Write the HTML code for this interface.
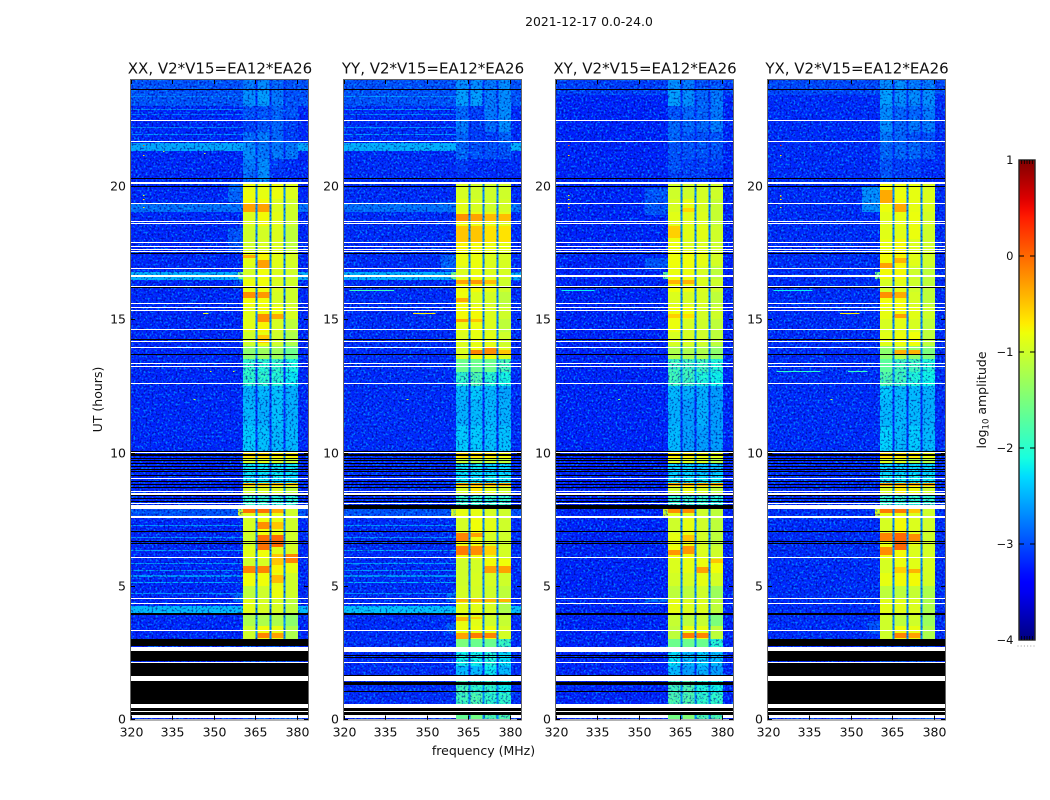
<!DOCTYPE html>
<html lang="en">
<head>
<meta charset="utf-8">
<title>2021-12-17 amplitude waterfall</title>
<style>
html,body{margin:0;padding:0;background:#fff;}
svg{display:block;font-family:"DejaVu Sans","Liberation Sans",sans-serif;fill:#111;}
</style>
</head>
<body>
<svg id="figure" xmlns="http://www.w3.org/2000/svg" width="1050" height="800" viewBox="0 0 1050 800">
  <defs>
    <filter id="speckle" x="0" y="0" width="100%" height="100%" color-interpolation-filters="sRGB">
      <feTurbulence type="fractalNoise" baseFrequency="0.5" numOctaves="1" seed="7" result="n"/>
      <feColorMatrix in="n" type="matrix" values="0 0 0 0 0  0 0 0 0 0.72  0 0 0 0 1  4.5 0 0 0 -2.2" result="hi"/>
      <feColorMatrix in="n" type="matrix" values="0 0 0 0 0  0 0 0 0 0  0 0 0 0 0.55  0 4.5 0 0 -2.25" result="lo"/>
      <feMerge><feMergeNode in="hi"/><feMergeNode in="lo"/></feMerge>
    </filter>
    <linearGradient id="jet-ramp" x1="0" y1="1" x2="0" y2="0"></linearGradient>
  </defs>
  <text x="589" y="26" text-anchor="middle" font-size="12.4">2021-12-17 0.0-24.0</text>
  <text transform="translate(102,399.5) rotate(-90)" text-anchor="middle" font-size="12.5">UT (hours)</text>
  <text x="483.5" y="755" text-anchor="middle" font-size="12.5">frequency (MHz)</text>
  <text transform="translate(986,400) rotate(-90)" text-anchor="middle" font-size="12.5">log<tspan font-size="8.5" dy="2.5">10</tspan><tspan dy="-2.5"> amplitude</tspan></text>
  <g id="panels"></g>
  <g id="colorbar"></g>
</svg>
<script>
/* ---------- axis labels ---------- */
const panelTitles = ["XX, V2*V15=EA12*EA26", "YY, V2*V15=EA12*EA26", "XY, V2*V15=EA12*EA26", "YX, V2*V15=EA12*EA26"];
const freqTicks = [320, 335, 350, 365, 380];
const utTicks = [0, 5, 10, 15, 20];
const colorbarTicks = [-4, -3, -2, -1, 0, 1];

/* ---------- heatmap grid: UT rows (top to bottom), frequency columns ---------- */
const utEdges = [24,23.6,23,22.5,22,21.6,21,20.5,20.08,19.5,19,18.5,18,17.5,17,16.5,16,15.5,15,14.5,14,13.5,13,12.5,12,11,10,9.8,9.6,9.2,9,8.85,8.75,8.5,7.9,7.6,7,6.5,6,5.5,5,4.5,4,3.5,3,2.7,2,1.5,1,0.5,0];
const freqEdges = [320,360.5,364.95,365.7,370.05,370.8,375.15,375.9,380.3,384];

/* log10 amplitude in the four spectral windows, one row per UT interval */
const xxWindows = [
[-2.8,-2.7,-2.9,-3],[-2.7,-2.6,-2.8,-3],[-3,-3,-2.9,-3],[-3.1,-3,-2.9,-3.1],[-2.9,-2.8,-2.9,-3.1],[-2.7,-2.8,-2.8,-2.8],[-2.8,-2.7,-3.1,-3.2],[-2.9,-2.7,-3.2,-3.2],
[-.82,-.85,-.82,-.92],[-.78,-.78,-.92,-1],[-.92,-.78,-.88,-1],[-1,-.97,-.92,-1.1],[-1,-.95,-.92,-1.1],[-.88,-.75,-.88,-.97],[-.97,-.8,-.92,-1],[-.82,-.8,-.92,-1],[-.8,-.8,-.95,-1],[-.88,-.78,-.8,-.95],[-.88,-.75,-.95,-1.1],[-1,-.85,-1,-1.2],[-1.4,-1.3,-1.3,-1.6],
[-1.95,-2,-1.95,-2.1],[-1.95,-1.95,-2,-2.2],[-2.5,-2.45,-2.4,-2.5],[-2.45,-2.5,-2.4,-2.5],[-2.35,-2.4,-2.45,-2.45],
[-.65,-.65,-.75,-.75],[-1,-.9,-1,-1.1],[-2.2,-2.2,-2.2,-2.2],[-2.3,-2.35,-2.2,-2.3],[-2.2,-2.2,-2.3,-2.3],[-.4,-.4,-.4,-.5],[-1,-.95,-.95,-1.1],[-1.95,-1.95,-2,-2],
[-.9,-.9,-.85,-1],[-.95,-.8,-.85,-1],[-1,-.8,-.8,-1],[-.88,-.8,-.88,-.95],[-1,-.95,-.75,-.85],[-.8,-.8,-.85,-1],[-1.1,-1,-.82,-1],[-.88,-.95,-.95,-1.1],[-1.2,-1.2,-1.2,-1.4],[-1,-.8,-.85,-1.2],
[-3,-3,-3,-3],[-3,-3,-3,-3],[-3,-3,-3,-3],[-3,-3,-3,-3],[-3,-3,-3,-3],[-3,-3,-3,-3]];
const yyWindows = [
[-2.7,-2.7,-2.8,-2.7],[-2.6,-2.6,-2.8,-2.7],[-2.9,-3.1,-2.8,-2.7],[-2.8,-3.1,-2.9,-2.7],[-2.9,-3.1,-3.1,-2.9],[-2.9,-3,-3,-3],[-3.1,-3.2,-3.2,-3.2],[-3.2,-3.2,-3.2,-3.2],
[-.95,-1,-1,-1],[-.88,-.95,-1,-.97],[-.8,-.82,-.85,-.88],[-.75,-.78,-.82,-.85],[-.75,-.78,-.82,-.85],[-.82,-.82,-.92,-.95],[-.92,-.82,-.92,-.95],[-.78,-.78,-.85,-1],[-.8,-.92,-.97,-1.1],[-.78,-.78,-.92,-1],[-.85,-.82,-.92,-1.1],[-.92,-.85,-.88,-1],[-.92,-.8,-.8,-.92],
[-1.6,-1.6,-1.6,-1.8],[-1.95,-1.75,-2,-2.1],[-2.45,-2.35,-2.45,-2.55],[-2.5,-2.45,-2.45,-2.5],[-2.35,-2.35,-2.4,-2.4],
[-.65,-.65,-.72,-.8],[-1.1,-1.2,-1.1,-1.1],[-2.2,-2.2,-2.3,-2.3],[-2.3,-2.3,-2.2,-2.2],[-2.2,-2.2,-2.2,-2.2],[-.3,-.3,-.3,-.3],[-.95,-.7,-.88,-1],[-1.95,-1.95,-1.95,-1.95],
[-.85,-.85,-.95,-1],[-.97,-.8,-.88,-1],[-.8,-.8,-.95,-1],[-.78,-.8,-.85,-.97],[-1,-.97,-.78,-.8],[-1,-.95,-.95,-1],[-.97,-.97,-1,-1.1],[-.88,-.88,-.95,-1.2],[-.85,-.88,-1,-1.05],[-.82,-.82,-.82,-.97],
[-1.5,-1.6,-1.6,-1.9],[-2.15,-2.15,-2.05,-2.25],[-2.45,-2.45,-2.2,-2.45],[-1.85,-1.95,-1.95,-2.15],[-1.85,-1.75,-1.95,-1.95],[-1.65,-1.55,-1.75,-1.75]];
const xyWindows = [
[-2.7,-2.8,-3,-3],[-2.6,-2.7,-2.9,-2.8],[-3,-2.9,-2.9,-2.8],[-2.9,-2.9,-2.9,-2.8],[-2.9,-3,-3,-3],[-3,-3,-3,-3],[-3,-3.1,-3.1,-3.1],[-3.1,-3.1,-3.1,-3.2],
[-1,-1,-.97,-1],[-.95,-.85,-.95,-1.05],[-.88,-.88,-.92,-1.05],[-.82,-.88,-.88,-1],[-.82,-.92,-.92,-1],[-.8,-.8,-.85,-.97],[-.82,-.82,-.95,-1.1],[-.8,-.82,-.92,-1],[-.92,-.95,-.95,-1.1],[-.8,-.8,-.97,-1],[-.82,-.95,-1,-1.1],[-.95,-.95,-1,-1.1],[-1.2,-1.2,-1.2,-1.4],
[-1.85,-1.85,-1.85,-2.05],[-1.85,-1.85,-2.05,-2.15],[-2.45,-2.5,-2.5,-2.6],[-2.5,-2.6,-2.5,-2.6],[-2.45,-2.6,-2.6,-2.6],
[-.72,-.72,-.82,-.88],[-.95,-.95,-.97,-1.2],[-2.3,-2.3,-2.4,-2.4],[-2.3,-2.3,-2.3,-2.3],[-2.2,-2.2,-2.2,-2.2],[-.3,-.3,-.3,-.3],[-1,-.82,-.95,-1.1],[-1.95,-1.95,-1.95,-2.05],
[-.9,-.9,-1,-1.1],[-1,-.85,-1,-1.1],[-.85,-.82,-.97,-1.1],[-.8,-.8,-.92,-1],[-.92,-.85,-.82,-.8],[-.97,-.95,-.85,-.97],[-1.1,-1.1,-1,-1.3],[-.85,-.92,-.92,-1.1],[-1.05,-1.1,-1.05,-1.5],[-1.1,-.85,-.85,-1.1],
[-1.6,-1.6,-1.6,-2],[-2.25,-2.45,-2.35,-2.45],[-2.45,-2.6,-2.5,-2.6],[-1.85,-1.75,-2.05,-2.15],[-1.75,-1.75,-1.95,-1.95],[-1.55,-1.45,-1.75,-1.75]];
const yxWindows = [
[-2.7,-2.7,-2.8,-2.8],[-2.6,-2.7,-2.7,-2.7],[-2.7,-2.9,-2.9,-2.8],[-2.7,-2.9,-2.8,-2.8],[-2.8,-2.9,-3,-3],[-2.9,-2.9,-2.9,-3],[-3,-3.1,-3.1,-3.2],[-3,-3.1,-3.1,-3.2],
[-.8,-.82,-.85,-.92],[-.82,-.78,-.85,-.92],[-.88,-.85,-.82,-.97],[-.88,-.88,-.82,-1],[-.85,-.78,-.92,-1],[-.78,-.75,-.88,-1],[-.78,-.78,-1,-1.1],[-.95,-.88,-1,-1.1],[-.8,-.8,-.95,-1.1],[-.85,-.78,-.88,-1],[-.95,-.88,-.95,-1.1],[-.88,-.82,-.8,-1.1],[-1.4,-1.2,-1.4,-1.5],
[-1.7,-1.85,-1.85,-2.05],[-1.75,-1.85,-2.05,-2.15],[-2.35,-2.45,-2.45,-2.5],[-2.45,-2.45,-2.45,-2.5],[-2.3,-2.45,-2.35,-2.45],
[-.65,-.72,-.72,-.82],[-.95,-.95,-1.2,-1.2],[-2.3,-2.3,-2.3,-2.3],[-2.2,-2.2,-2.2,-2.2],[-2.2,-2.2,-2.2,-2.2],[-.25,-.25,-.3,-.3],[-.95,-.72,-.82,-1],[-1.95,-1.95,-1.95,-1.95],
[-.85,-.85,-.92,-1],[-.95,-.78,-.92,-1],[-.82,-.8,-.85,-1],[-.8,-.78,-.92,-.97],[-.95,-.82,-.88,-.95],[-.85,-.78,-.78,-.97],[-1.1,-1.1,-1.05,-1.2],[-.88,-.88,-.92,-1.2],[-1,-1.1,-1,-1.3],[-1,-.82,-.85,-1.2],
[-3,-3,-3,-3],[-3,-3,-3,-3],[-3,-3,-3,-3],[-3,-3,-3,-3],[-3,-3,-3,-3],[-3,-3,-3,-3]];

/* bright patches inside a window: [windowIndex, utTop, utBottom, level] */
const xxHot = [[0,19.3,19,-.3],[1,19.3,19,-.3],[0,17.4,17.3,-.35],[1,17.2,16.9,-.3],[0,16,15.8,-.2],[1,16,15.8,-.25],[1,15.2,14.9,-.2],[2,15.2,15,-.35],[1,14.4,14.1,-.5],[0,7.9,7.72,-.05],[1,7.9,7.72,-.05],[2,7.9,7.75,-.35],[1,7.4,7.15,-.2],[2,7.4,7.15,-.5],[1,6.9,6.35,-.05],[2,6.9,6.45,0],[3,6.2,5.85,-.15],[2,6.2,5.8,-.5],[0,5.75,5.5,-.15],[1,5.75,5.5,-.15],[2,5.4,5.1,-.45],[1,3.25,3.05,-.15],[2,3.25,3.05,-.3]];
const yyHot = [[0,18.95,18.65,-.2],[1,18.95,18.65,-.3],[2,18.95,18.65,-.45],[3,18.95,18.65,-.45],[0,18.5,17.9,-.5],[1,18.5,17.9,-.5],[2,18.5,17.9,-.65],[3,18.5,17.9,-.65],[0,16.45,16.3,-.3],[1,16.45,16.3,-.25],[2,16.45,16.3,-.45],[0,15.8,15.65,-.35],[0,15,14.9,-.3],[1,15,14.9,-.5],[1,13.85,13.7,-.15],[2,13.95,13.7,-.2],[3,13.85,13.7,-.5],[0,7,6.7,-.15],[1,7,6.85,-.3],[0,6.5,6.15,-.1],[1,6.5,6.15,-.2],[2,6.5,6.15,-.55],[2,5.75,5.5,-.3],[3,5.75,5.5,-.3],[0,4.5,4.4,-.4],[1,4.5,4.4,-.4],[2,4.5,4.4,-.4],[3,4.5,4.4,-.4],[0,3.85,3.7,-.4],[1,3.85,3.75,-.55],[0,3.25,3,-.3],[1,3.25,3.05,-.1],[2,3.25,3.05,-.15]];
const xyHot = [[0,18.5,18.05,-.55],[1,19.15,19,-.6],[0,16.45,16.3,-.4],[1,16.45,16.3,-.4],[0,15.2,15.05,-.55],[1,15.2,15.05,-.65],[0,7.9,7.75,-.2],[1,7.9,7.75,-.2],[1,6.9,6.7,-.5],[0,6.35,6.15,-.25],[1,6.5,6.2,-.25],[3,6,5.85,-.5],[2,5.7,5.5,-.3],[1,3.25,3.05,-.1],[2,3.25,3.05,-.15]];
const yxHot = [[0,19.85,19.3,-.35],[1,19.3,19,-.35],[1,17.3,17.1,-.4],[0,17.1,16.9,-.3],[0,16,15.8,-.2],[1,16,15.8,-.35],[1,15.2,15.05,-.3],[2,13.85,13.7,-.4],[1,13.85,13.7,-.4],[0,7.9,7.75,-.1],[1,7.9,7.75,-.1],[2,7.9,7.75,-.5],[0,7,6.7,-.15],[1,7,6.35,0],[2,6.95,6.7,-.2],[0,6.45,6.15,-.2],[2,5.65,5.5,-.4],[1,5.7,5.5,-.55],[1,3.25,3.05,-.15],[2,3.25,3.05,-.3]];

/* off-band background level and the channel-gap levels */
const backgroundLevels = [-3.22, -3.2, -3.24, -3.2];
const gapLevelBright = -2.7;
const gapLevelQuiet = -3.2;

/* broad raised bands: [utTop, utBottom, level] */
const xxRaised = [[24,23.0,-3.0],[21.62,21.3,-2.55],[19.35,19.0,-2.85],[16.75,16.45,-2.5],[7.9,7.58,-3.0],[4.24,3.98,-2.45]];
const yyRaised = [[24,23.0,-3.0],[21.62,21.3,-2.5],[19.35,19.0,-2.85],[16.75,16.45,-2.5],[7.9,7.58,-3.0],[4.24,3.98,-2.4]];
const xyRaised = [[24,23.4,-3.1]];
const yxRaised = [[24,23.4,-3.05]];

/* thin interference lines: [ut, level] */
const xxLines = [[23.35,-2.75],[22.85,-2.75],[22.66,-2.85],[22.17,-2.75],[21.92,-2.75],[7.28,-2.65],[6.8,-2.65],[6.34,-2.6],[5.85,-2.65],[5.59,-2.65],[5.37,-2.65],[5.11,-2.55],[4.73,-2.65]];
const yyLines = [[23.35,-2.65],[22.85,-2.65],[22.66,-2.75],[22.17,-2.65],[21.92,-2.65],[7.28,-2.65],[6.8,-2.65],[6.34,-2.5],[5.85,-2.6],[5.59,-2.65],[5.37,-2.65],[5.11,-2.5],[4.73,-2.65]];
const xyLines = [];
const yxLines = [];

/* shoulder next to the band: [utTop, utBottom, level, startMHz] */
const xxShoulder = [[20.05,19.4,-2.9,355],[18.4,17.5,-3.0,355],[16.45,16.3,-2.95,358],[16.75,16.5,-1.5,358.6],[7.9,7.62,-.9,358.6],[4.7,4.4,-2.9,357]];
const yyShoulder = [[19.4,19.0,-2.85,355],[17.4,16.8,-2.95,355],[16.75,16.5,-1.5,358.6],[7.9,7.62,-.9,358.6],[4.7,4.4,-2.9,357],[3.6,3.2,-2.95,357]];
const xyShoulder = [[19.9,18.9,-3.0,352],[17.3,16.9,-3.0,352],[16.75,16.5,-1.6,358.6],[7.9,7.62,-.9,358.6],[4.5,4.4,-2.85,352]];
const yxShoulder = [[19.95,19.0,-2.7,354],[16.75,16.5,-1.5,358.6],[7.9,7.62,-.9,358.6],[3.7,3.2,-3.0,356]];

/* isolated hot spots: [freqMHz, ut, level, widthMHz] */
const xxSpecks = [[324.4,21.5,.1,.5],[324.4,21.15,-.7,.5],[324.4,19.63,-.9,.5],[324.4,19.47,-.7,.5],[324.4,19.2,-.7,.5],[331.6,21.3,-1.2,.5],[346.4,21.2,-1.0,.5],[346,15.22,-.9,2],[342.6,12,-1.1,.8],[348.6,13.02,-.9,.5],[356.9,13.02,-.9,.5]];
const yySpecks = [[322,16.09,-1.9,16],[345,15.22,-.7,8],[342.6,12,-1.1,.8]];
const xySpecks = [[324.4,21.5,.1,.5],[324.4,21.15,-.7,.5],[324.4,19.63,-.8,.5],[324.4,19.47,-.7,.5],[324.4,19.3,-.8,.5],[324.4,19.2,-.2,.5],[322,16.09,-2.2,12],[342.4,12,-1.5,.8]];
const yxSpecks = [[324.4,21.5,.3,.5],[324.4,21.15,-.7,.5],[324.4,19.65,-1.6,.5],[324.4,19.6,.1,.5],[324.4,19.47,-.7,.5],[324.4,19.2,-.7,.5],[322,16.09,-2.2,14],[346,15.22,-.7,7],[323,13.02,-2,16],[349,13.02,-1.9,7],[342.6,12,-1.1,.8]];

/* flagged rows shared by all panels: [utTop, utBottom] */
const whiteFlags = [[22.48,22.43],[21.67,21.62],[20.13,20.07],[19.37,19.32],[18.69,18.64],[18.6,18.55],[17.88,17.83],[17.75,17.7],[17.63,17.58],[17.54,17.49],[16.9,16.85],[16.65,16.56],[16.26,16.21],[15.59,15.54],[15.46,15.41],[15.35,15.3],[14.62,14.57],[14.18,14.13],[13.94,13.89],[13.34,13.29],[13.24,13.19],[12.59,12.54],[10.01,9.97],[9.06,9.01],[8.57,8.52],[8.49,8.43],[8.12,8.07],[7.62,7.54],[6.1,6.05],[4.56,4.51],[4.37,4.32],[3.36,3.31],[2.72,2.54],[2.16,2.11],[1.62,1.44],[.57,.43],[.4,.37],[.31,.28]];
const blackFlags = [[23.62,23.57],[20.28,20.23],[19.98,19.93],[17.47,17.42],[16.19,16.14],[14.24,14.19],[13.68,13.63],[10.05,10.02],[9.94,9.91],[9.89,9.84],[9.8,9.76],[9.71,9.66],[9.59,9.55],[9.49,9.44],[9.39,9.35],[9.29,9.24],[9.17,9.12],[8.92,8.87],[8.82,8.77],[8.71,8.66],[8.39,8.34],[8.29,8.24],[8.2,8.15],[7.07,7.02],[6.68,6.63],[6.61,6.56],[3.97,3.91],[.43,.4],[.37,.31],[.28,.15]];

/* panel-specific flags */
const crossHandFullBlack = [[3,2.72],[2.54,2.16],[2.11,1.62],[1.44,.57]];
const crossHandFullWhite = [[8.05,7.9],[.15,.03]];
const partialFlagBlack = [[8.05,7.9],[2.42,2.38],[2.35,2.3],[1.64,1.6],[1.41,1.31],[1.07,1.02]];
const partialFlagWhiteOffBand = [[.15,.03]];

const panelWindows = [xxWindows, yyWindows, xyWindows, yxWindows];
const panelHot = [xxHot, yyHot, xyHot, yxHot];
const panelRaised = [xxRaised, yyRaised, xyRaised, yxRaised];
const panelLines = [xxLines, yyLines, xyLines, yxLines];
const panelShoulders = [xxShoulder, yyShoulder, xyShoulder, yxShoulder];
const panelSpecks = [xxSpecks, yySpecks, xySpecks, yxSpecks];
const panelKeys = ['xx', 'yy', 'xy', 'yx'];
const panelBlack = [crossHandFullBlack, partialFlagBlack, partialFlagBlack, crossHandFullBlack];
const panelWhite = [crossHandFullWhite, [], [], crossHandFullWhite];
const panelOffBandWhite = [[], partialFlagWhiteOffBand, partialFlagWhiteOffBand, []];

/* ---------- axes ---------- */
const SVGNS = 'http://www.w3.org/2000/svg';
const axesLeft = [131, 344, 556, 768];
const axesWidth = 177, axesTop = 80, axesBottom = 719.5;
function xScale(panel, f) { return axesLeft[panel] + (f - 320) * axesWidth / 64; }
function yScale(ut) { return 719.2 - 26.67 * ut; }
const levelMin = -4, levelMax = 1;
const cbarLeft = 1019, cbarRight = 1035, cbarTop = 160, cbarBottom = 640;
function cbarY(v) { return cbarBottom - (v - levelMin) / (levelMax - levelMin) * (cbarBottom - cbarTop); }

function lerpStops(stops, t) {
  for (let i = 1; i < stops.length; i++) {
    if (t <= stops[i][0]) {
      const a = stops[i - 1], b = stops[i];
      return a[1] + (b[1] - a[1]) * (t - a[0]) / (b[0] - a[0]);
    }
  }
  return stops[stops.length - 1][1];
}
const jetR = [[0,0],[.35,0],[.66,1],[.89,1],[1,.5]];
const jetG = [[0,0],[.125,0],[.375,1],[.64,1],[.91,0],[1,0]];
const jetB = [[0,.5],[.11,1],[.34,1],[.65,0],[1,0]];
function jet(level) {
  const t = Math.max(0, Math.min(1, (level - levelMin) / (levelMax - levelMin)));
  const c = s => Math.round(255 * lerpStops(s, t));
  return 'rgb(' + c(jetR) + ',' + c(jetG) + ',' + c(jetB) + ')';
}

function make(tag, parent, attrs) {
  const e = document.createElementNS(SVGNS, tag);
  for (const k in attrs) e.setAttribute(k, attrs[k]);
  parent.appendChild(e);
  return e;
}
/* contiguous cells: both edges snap so neighbours share a boundary */
function box(parent, panel, f0, f1, utTop, utBottom, fill) {
  const yA = Math.round(yScale(utTop));
  const yB = Math.round(yScale(utBottom));
  return make('rect', parent, {
    x: xScale(panel, f0), width: xScale(panel, f1) - xScale(panel, f0),
    y: yA, height: Math.max(yB - yA, 1),
    fill: fill, 'shape-rendering': 'crispEdges'
  });
}
/* isolated flag rows: height rounds on its own so thin rows stay one pixel */
function flagBox(parent, panel, f0, f1, utTop, utBottom, fill) {
  const yA = Math.round(yScale(utTop));
  const h = Math.max(Math.round(yScale(utBottom) - yScale(utTop)), 1);
  return make('rect', parent, {
    x: xScale(panel, f0), width: xScale(panel, f1) - xScale(panel, f0),
    y: yA, height: h,
    fill: fill, 'shape-rendering': 'crispEdges'
  });
}

const panelsRoot = document.getElementById('panels');
const defs = document.querySelector('defs');
const offBandRanges = [[320, 360.5], [380.3, 384]];

panelTitles.forEach(function (title, p) {
  const key = panelKeys[p];
  const left = axesLeft[p];
  const group = make('g', panelsRoot, {});
  
  

  const frameClip = make('clipPath', defs, { id: 'frame-' + p });
  make('rect', frameClip, { x: left, y: axesTop, width: axesWidth, height: axesBottom - axesTop });
  const noiseClip = make('clipPath', defs, { id: 'noise-' + p });

  const plot = make('g', group, { 'clip-path': 'url(#frame-' + p + ')' });
  
  

  /* heatmap cells */
  panelWindows[p].forEach(function (row, r) {
    const levels = [];
    levels.push(backgroundLevels[p]);
    const gap = row[0] > -1.9 ? gapLevelBright : gapLevelQuiet;
    levels.push(row[0], gap, row[1], gap, row[2], gap, row[3]);
    levels.push(backgroundLevels[p]);
    levels.forEach(function (level, c) {
      const cell = box(plot, p, freqEdges[c], freqEdges[c + 1], utEdges[r], utEdges[r + 1], jet(level));
      
      
      if (level < -1.7) {
        box(noiseClip, p, freqEdges[c], freqEdges[c + 1], utEdges[r], utEdges[r + 1], '#000');
      }
    });
  });

  /* bright patches within the windows */
  panelHot[p].forEach(function (h) {
    const mark = box(plot, p, freqEdges[1 + 2 * h[0]], freqEdges[2 + 2 * h[0]], h[1], h[2], jet(h[3]));
    
    
  });

  /* raised off-band structure */
  panelRaised[p].forEach(function (band) {
    offBandRanges.forEach(function (range) {
      const mark = box(plot, p, range[0], range[1], band[0], band[1], jet(band[2]));
      
      
    });
  });
  panelLines[p].forEach(function (line) {
    const mark = box(plot, p, 320, 360.5, line[0] + .02, line[0] - .02, jet(line[1]));
    
    
  });
  panelShoulders[p].forEach(function (s) {
    const mark = box(plot, p, s[3], 360.5, s[0], s[1], jet(s[2]));
    
    
  });

  /* speckle texture on the low-level cells */
  const texture = make('g', plot, { 'clip-path': 'url(#noise-' + p + ')' });
  make('rect', texture, { x: left, y: axesTop, width: axesWidth, height: axesBottom - axesTop, filter: 'url(#speckle)', opacity: .6 });

  panelSpecks[p].forEach(function (s) {
    const mark = flagBox(plot, p, s[0], s[0] + s[3], s[1] + .02, s[1] - .02, jet(s[2]));
    
    
  });

  /* flagged rows */
  whiteFlags.forEach(function (f) {
    const mark = flagBox(plot, p, 320, 384, f[0], f[1], '#fff');
    
    
  });
  blackFlags.forEach(function (f) {
    const mark = flagBox(plot, p, 320, 384, f[0], f[1], '#000');
    
    
  });
  panelBlack[p].forEach(function (f) {
    const mark = flagBox(plot, p, 320, 384, f[0], f[1], '#000');
    
    
  });
  panelWhite[p].forEach(function (f) {
    const mark = flagBox(plot, p, 320, 384, f[0], f[1], '#fff');
    
    
  });
  panelOffBandWhite[p].forEach(function (f) {
    offBandRanges.forEach(function (range) {
      const mark = flagBox(plot, p, range[0], range[1], f[0], f[1], '#fff');
      
      
    });
  });

  /* frame */
  const frame = make('rect', group, { x: left - .5, y: axesTop - .5, width: axesWidth + 1, height: axesBottom - axesTop + 1, fill: 'none', stroke: '#666', 'stroke-width': 1 });
  
  

  /* title */
  const titleEl = make('text', group, { x: left + axesWidth / 2 + .5, y: 73.5, 'text-anchor': 'middle', 'font-size': 15 });
  titleEl.textContent = title;
  
  

  /* x ticks */
  freqTicks.forEach(function (f) {
    const x = Math.round(xScale(p, f)) + .5;
    const tickB = make('line', group, { x1: x, x2: x, y1: axesBottom, y2: axesBottom - 4, stroke: '#000', 'stroke-width': 1 });
    
    
    const tickT = make('line', group, { x1: x, x2: x, y1: axesTop, y2: axesTop + 4, stroke: '#000', 'stroke-width': 1 });
    
    
    const lab = make('text', group, { x: x, y: 736.5, 'text-anchor': 'middle', 'font-size': 12.5 });
    lab.textContent = f;
    
    
  });

  /* y ticks */
  utTicks.forEach(function (u) {
    const y = Math.round(yScale(u)) + .5;
    const tickL = make('line', group, { x1: left, x2: left + 4, y1: y, y2: y, stroke: '#000', 'stroke-width': 1 });
    
    
    const tickR = make('line', group, { x1: left + axesWidth, x2: left + axesWidth - 4, y1: y, y2: y, stroke: '#000', 'stroke-width': 1 });
    
    
    const lab = make('text', group, { x: left - 5, y: y + 4, 'text-anchor': 'end', 'font-size': 12.5 });
    lab.textContent = u;
    
    
  });
});

/* ---------- colorbar ---------- */
const ramp = document.getElementById('jet-ramp');
for (let i = 0; i <= 50; i++) {
  make('stop', ramp, { offset: (i * 2) + '%', 'stop-color': jet(levelMin + (levelMax - levelMin) * i / 50) });
}
const cbar = document.getElementById('colorbar');
const cbarRect = make('rect', cbar, { x: cbarLeft, y: cbarTop, width: cbarRight - cbarLeft, height: cbarBottom - cbarTop, fill: 'url(#jet-ramp)', stroke: '#222', 'stroke-width': 1.4 });


colorbarTicks.forEach(function (v) {
  const y = cbarY(v);
  const lab = make('text', cbar, { x: 1013.5, y: y + 4, 'text-anchor': 'end', 'font-size': 11.5 });
  lab.textContent = String(v).replace('-', '\u2212');
  
  
  if (v > levelMin && v < levelMax) {
    const a = make('line', cbar, { x1: cbarLeft, x2: cbarLeft + 5, y1: y, y2: y, stroke: '#000', 'stroke-width': 1 });
    
    
    const b = make('line', cbar, { x1: cbarRight, x2: cbarRight - 5, y1: y, y2: y, stroke: '#000', 'stroke-width': 1 });
    
    
  }
});
for (let i = 1; i < 6; i++) {
  const x = cbarLeft + i * (cbarRight - cbarLeft) / 6;
  const top = make('line', cbar, { x1: x, x2: x, y1: cbarTop, y2: cbarTop + 4, stroke: '#000', 'stroke-width': .8 });
  
  
  const bottom = make('line', cbar, { x1: x, x2: x, y1: cbarBottom, y2: cbarBottom - 4, stroke: '#000', 'stroke-width': .8 });
  
  
}
const dots = make('line', cbar, { x1: 1017.5, x2: 1035, y1: 646, y2: 646, stroke: '#999', 'stroke-width': 1, 'stroke-dasharray': '1 2.2' });


</script>
</body>
</html>
